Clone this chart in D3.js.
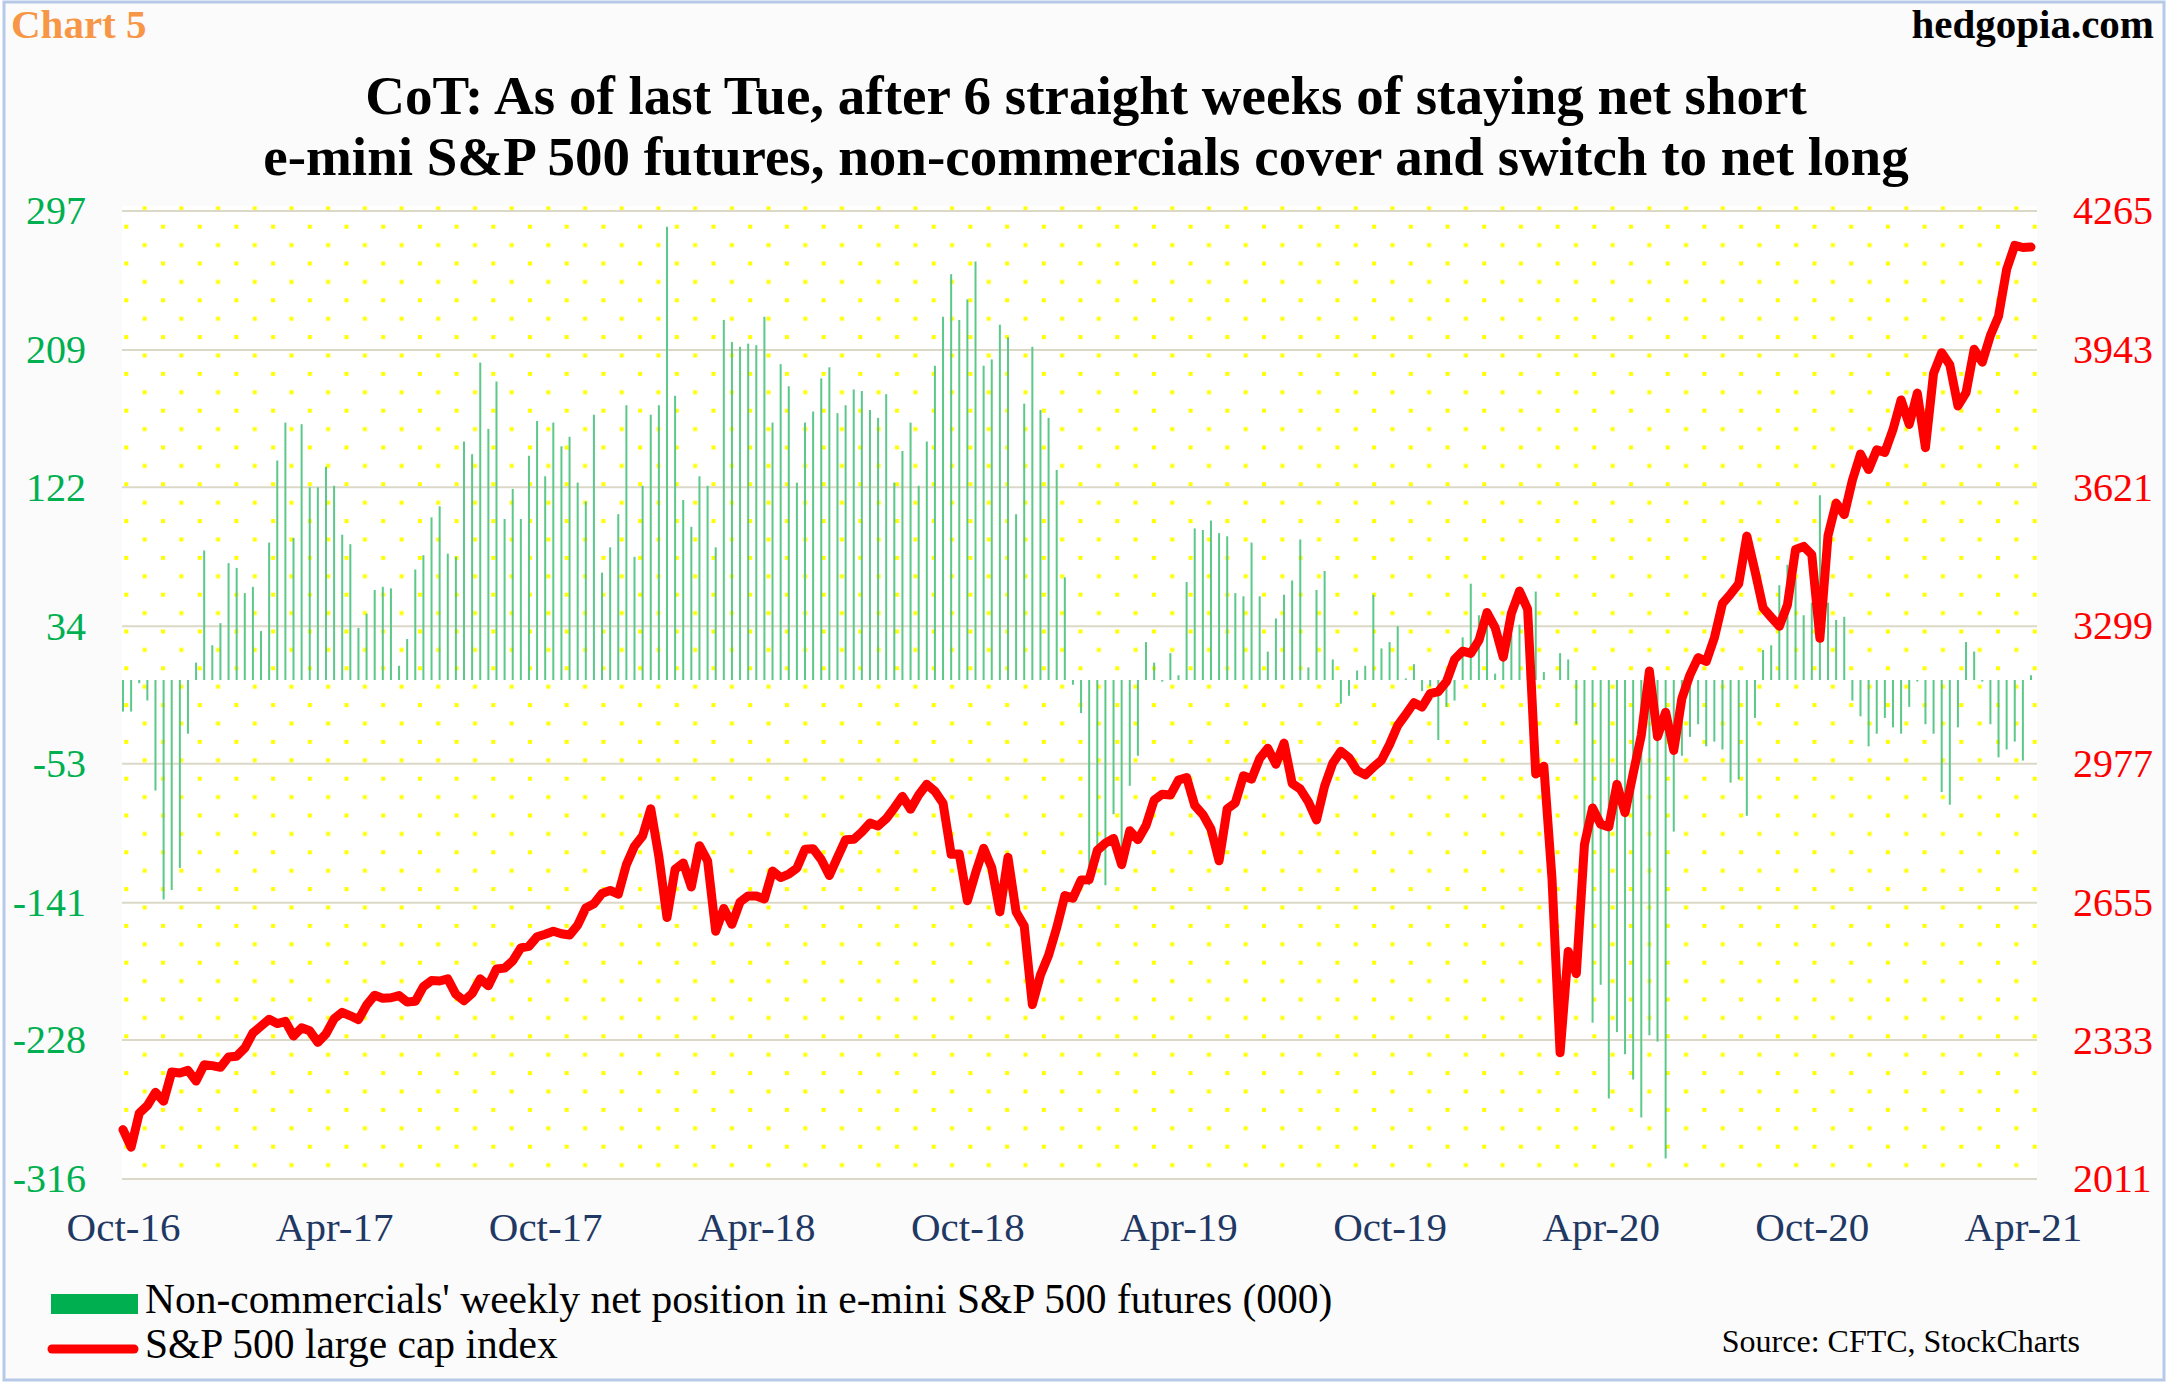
<!DOCTYPE html>
<html><head><meta charset="utf-8">
<script src="https://cdn.jsdelivr.net/npm/d3@7"></script>
<style>
html,body{margin:0;padding:0;background:#fff;}
svg{display:block;}
text{font-family:"Liberation Serif","Times New Roman",serif;}
</style></head><body>
<div id="chart"></div>
<script>
// ---------- DATA ----------
const startDate = "2016-10-28"; // first weekly category
// Non-commercials' weekly net position in e-mini S&P 500 futures (000)
const netPosition = [
 -20,-20,-2,-13,-70,-139,-133,-119,-34,11,
 82,22,36,74,71,55,59,31,87,139,
 163,90,162,122,122,135,123,92,86,33,
 42,57,59,58,9,26,70,79,103,110,
 80,78,151,143,201,159,189,102,121,102,
 142,164,129,163,148,154,125,113,168,68,
 84,105,174,78,123,168,174,287,180,114,
 97,129,123,84,228,214,211,213,212,230,
 163,200,186,125,163,170,191,198,169,174,
 184,183,171,166,181,125,145,163,123,151,
 199,230,257,228,241,265,199,203,225,217,
 105,175,211,171,166,133,65,-3,-21,-130,
 -112,-130,-85,-110,-67,-48,24,11,-1,17,
 3,62,96,95,101,93,91,55,53,87,
 53,18,39,54,63,89,8,57,69,13,
 -15,-10,6,9,54,20,24,34,1,10,
 -7,-4,-38,-17,-13,27,61,41,43,4,
 19,29,35,37,56,5,0,17,13,-28,
 -95,-217,-193,-265,-223,-237,-253,-277,-225,-229,
 -303,-96,-48,-36,-28,-42,-39,-44,-65,-63,
 -86,-24,19,22,60,73,65,41,49,117,
 49,38,40,-13,-23,-42,-34,-24,-30,-34,
 -17,-1,-28,-34,-71,-79,-30,24,18,-1,
 -28,-49,-44,-39,-51,3
];
// S&P 500 large cap index (weekly)
const spx = [
 2126,2085,2164,2182,2213,2192,2260,2258,2264,2239,
 2277,2275,2271,2295,2297,2316,2351,2367,2383,2373,2378,2344,2363,2356,2329,2349,
 2384,2399,2391,2382,2416,2439,2432,2433,2438,2423,2425,2459,2473,2472,2477,2441,
 2426,2443,2477,2461,2500,2502,2519,2549,2553,2575,2581,2588,2582,2579,2602,2642,
 2652,2676,2683,2674,
 2743,2786,2810,2873,2762,2620,2732,2747,2691,2787,2752,2588,2641,2604,2656,2670,
 2670,2663,2728,2713,2721,2735,2779,2780,2755,2718,2760,2801,2802,2819,2840,2833,
 2850,2875,2902,2872,2905,2930,2914,2886,2767,2768,2659,2723,2781,2736,2633,2760,
 2633,2600,2417,2486,
 2532,2596,2671,2665,2707,2708,2776,2793,2804,2743,2822,2801,2834,2893,2907,2905,
 2940,2946,2881,2860,2826,2752,2873,2887,2950,2942,2990,3014,2977,3026,2932,2919,
 2889,2847,2926,2979,3007,2992,2962,2952,2970,2986,3023,3067,3093,3120,3110,3141,
 3146,3169,3221,3240,
 3235,3265,3330,3295,3226,3328,3380,3338,2954,2972,2711,2305,2541,2489,2790,2875,
 2837,2831,2930,2864,2955,3044,3194,3041,3098,3009,3130,3185,3225,3216,3271,3351,
 3373,3397,3508,3427,3341,3319,3298,3348,3477,3484,3465,3270,3509,3585,3558,3638,
 3699,3663,3709,3703,
 3756,3825,3768,3841,3714,3887,3935,3907,3811,3842,3943,3913,3975,4020,4129,4185,
 4180,4181
];
const xTickDates = ["2016-10-28","2017-04-28","2017-10-27","2018-04-27","2018-10-26",
                    "2019-04-26","2019-10-25","2020-04-24","2020-10-23","2021-04-23"];
const xTickLabels = ["Oct-16","Apr-17","Oct-17","Apr-18","Oct-18","Apr-19","Oct-19","Apr-20","Oct-20","Apr-21"];
const leftTicks = [-316,-228,-141,-53,34,122,209,297];
const rightTicks = [2011,2333,2655,2977,3299,3621,3943,4265];
const titleLines = ["CoT: As of last Tue, after 6 straight weeks of staying net short",
                    "e-mini S&P 500 futures, non-commercials cover and switch to net long"];
const legendLabels = ["Non-commercials' weekly net position in e-mini S&P 500 futures (000)",
                      "S&P 500 large cap index"];
const chartTag = "Chart 5";
const siteTag = "hedgopia.com";
const sourceText = "Source: CFTC, StockCharts";

// ---------- LAYOUT ----------
const W = 2172, H = 1384;
const plot = {x0:122, x1:2037, y0:211, y1:1179};
const parse = d3.utcParse("%Y-%m-%d");
const start = parse(startDate);
const dates = netPosition.map((_, i) => d3.utcDay.offset(start, 7*i));
const serif = "'Liberation Serif','Times New Roman',serif";

const svg = d3.select("#chart").append("svg").attr("width", W).attr("height", H);

const x = d3.scaleUtc().domain([dates[0], dates[dates.length-1]]).range([123, 2031]);
const yL = d3.scaleLinear().domain([-316, 297]).range([plot.y1, plot.y0]);
const yR = d3.scaleLinear().domain([2011, 4265]).range([plot.y1, plot.y0]);

// background + border
svg.append("rect").attr("x",0).attr("y",0).attr("width",W).attr("height",H).attr("fill","#ffffff");
svg.append("rect").attr("x",4).attr("y",2).attr("width",2160).attr("height",1378)
   .attr("fill","#fbfbfb").attr("stroke","#b7c9e8").attr("stroke-width",3);

// dot pattern
const defs = svg.append("defs");
const pat = defs.append("pattern").attr("id","dots").attr("patternUnits","userSpaceOnUse")
  .attr("x",124.3).attr("y",224.7).attr("width",36.7).attr("height",36.8);
pat.append("rect").attr("x",0).attr("y",0).attr("width",4).attr("height",4).attr("fill","#ffff00");
pat.append("rect").attr("x",18.35).attr("y",18.4).attr("width",4).attr("height",4).attr("fill","#ffff00");

svg.append("rect").attr("x",plot.x0).attr("y",plot.y0-5).attr("width",plot.x1-plot.x0)
   .attr("height",plot.y1-plot.y0+5).attr("fill","#ffffff");
svg.append("rect").attr("x",plot.x0).attr("y",plot.y0-5).attr("width",plot.x1-plot.x0)
   .attr("height",plot.y1-plot.y0+5).attr("fill","url(#dots)");

// gridlines
svg.append("g").selectAll("line").data(leftTicks).join("line")
  .attr("x1",plot.x0).attr("x2",plot.x1)
  .attr("y1",d=>yL(d)).attr("y2",d=>yL(d))
  .attr("stroke","#dcd8c8").attr("stroke-width",2);

// bars
svg.append("g").selectAll("rect").data(netPosition).join("rect")
  .attr("x",(d,i)=>x(dates[i])-1)
  .attr("width",2)
  .attr("y",d=>Math.min(yL(d),yL(0)))
  .attr("height",d=>Math.abs(yL(d)-yL(0)))
  .attr("fill","#5cc88a");

// line
const line = d3.line().x((d,i)=>x(dates[i])).y(d=>yR(d));
svg.append("path").datum(spx).attr("d",line).attr("fill","none")
  .attr("stroke","#ff0000").attr("stroke-width",9)
  .attr("stroke-linejoin","round").attr("stroke-linecap","round");

// axes
const axL = svg.append("g").attr("transform","translate(86,0)")
  .call(d3.axisLeft(yL).tickValues(leftTicks).tickSize(0).tickPadding(0).tickFormat(d=>String(d)));
axL.select(".domain").remove();
axL.selectAll("text").attr("font-size",40).attr("fill","#00b050").attr("font-family",serif);

const axR = svg.append("g").attr("transform","translate(2073,0)")
  .call(d3.axisRight(yR).tickValues(rightTicks).tickSize(0).tickPadding(0).tickFormat(d=>String(d)));
axR.select(".domain").remove();
axR.selectAll("text").attr("font-size",40).attr("fill","#ff0000").attr("font-family",serif);

const tickDates = xTickDates.map(parse);
const axB = svg.append("g").attr("transform",`translate(0,${plot.y1})`)
  .call(d3.axisBottom(x).tickValues(tickDates).tickSize(0).tickPadding(33)
        .tickFormat((d,i)=>xTickLabels[i]));
axB.select(".domain").remove();
axB.selectAll("text").attr("font-size",41).attr("fill","#1f3864").attr("font-family",serif);

// titles
svg.append("g").selectAll("text").data(titleLines).join("text")
  .attr("x",1086).attr("y",(d,i)=>114+i*61)
  .attr("text-anchor","middle").attr("font-weight","bold").attr("font-size",55)
  .attr("fill","#000").text(d=>d);

svg.append("text").attr("x",11).attr("y",38).attr("font-weight","bold").attr("font-size",41)
  .attr("fill","#f79646").text(chartTag);
svg.append("text").attr("x",2154).attr("y",38).attr("text-anchor","end").attr("font-weight","bold")
  .attr("font-size",41).attr("fill","#000").text(siteTag);

// legend
svg.append("rect").attr("x",51).attr("y",1294).attr("width",87).attr("height",20).attr("fill","#00b050");
svg.append("line").attr("x1",52).attr("x2",134).attr("y1",1349).attr("y2",1349)
  .attr("stroke","#ff0000").attr("stroke-width",9).attr("stroke-linecap","round");
svg.append("g").selectAll("text").data(legendLabels).join("text")
  .attr("x",145).attr("y",(d,i)=>1313+i*45).attr("font-size",41.5).attr("fill","#000").text(d=>d);

svg.append("text").attr("x",2080).attr("y",1352).attr("text-anchor","end")
  .attr("font-size",32).attr("fill","#000").text(sourceText);
</script>
</body></html>
